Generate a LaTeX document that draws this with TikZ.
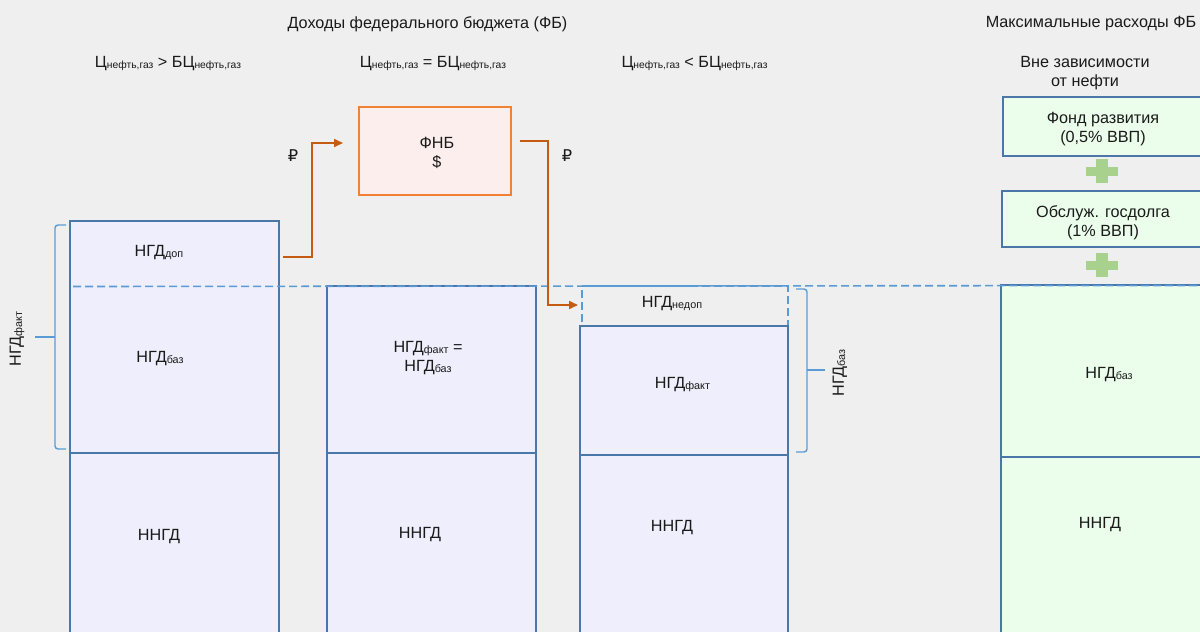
\documentclass[tikz,border=0pt]{standalone}
\usepackage{fontspec}
\setmainfont{Liberation Sans}
\newfontfamily\rubfont{DejaVu Sans}
\usetikzlibrary{arrows.meta}
\definecolor{bg}{HTML}{EFEFEF}
\definecolor{bord}{HTML}{4A77A8}
\definecolor{lav}{HTML}{EEEEFC}
\definecolor{grn}{HTML}{EBFDEB}
\definecolor{dashc}{HTML}{5B9BD5}
\definecolor{plusc}{HTML}{A9D18E}
\definecolor{fnbfill}{HTML}{FDEEEE}
\definecolor{fnbbord}{HTML}{F28233}
\definecolor{arrc}{HTML}{C55A11}
\definecolor{txt}{HTML}{1A1A1A}
\newcommand\sbs[1]{\raisebox{-1.2pt}{\fontsize{10.8}{11}\selectfont #1}}
\newcommand\csub[1]{\raisebox{-1.2pt}{\fontsize{10.3}{11}\selectfont #1}}
\begin{document}
\begin{tikzpicture}[x=1pt,y=-1pt,
  every node/.style={font=\fontsize{16.2}{19}\selectfont, text=txt, inner sep=0pt, outer sep=0pt},
  lbl/.style={anchor=base},
  bluebox/.style={draw=bord, fill=lav, line width=1.4pt},
  greenbox/.style={draw=bord, fill=grn, line width=1.4pt},
  fnbbox/.style={draw=fnbbord, fill=fnbfill, line width=1.4pt},
  dashbox/.style={draw=dashc, line width=1.4pt, dash pattern=on 8pt off 4pt},
  dashline/.style={draw=dashc, line width=1.6pt, dash pattern=on 8pt off 4pt},
  bracec/.style={draw=dashc, line width=1.4pt, rounded corners=3pt},
  flow/.style={draw=arrc, line width=1.6pt, -{Triangle[length=9pt,width=8pt]}},
  pluss/.style={fill=plusc}
]
\useasboundingbox (0,0) rectangle (1200,632);
\clip (0,0) rectangle (1200,632);
\fill[bg] (0,0) rectangle (1200,632);

% titles
\node (t1) at (427.5,24) {Доходы федерального бюджета (ФБ)};
\node (t2) at (1091,24) {Максимальные расходы ФБ};
\node[lbl] (k1) at (168,67.5) {Ц\csub{нефть,газ} > БЦ\csub{нефть,газ}};
\node[lbl] (k2) at (433,67.5) {Ц\csub{нефть,газ} = БЦ\csub{нефть,газ}};
\node[lbl] (k3) at (694.5,67.5) {Ц\csub{нефть,газ} < БЦ\csub{нефть,газ}};
\node[align=center] (k4) at (1085,73.5) {Вне зависимости\\от нефти};

% column 1
\node[bluebox, minimum width=209, minimum height=232] (c1top) at (174.5,337) {};
\node[bluebox, minimum width=209, minimum height=192] (c1bot) at (174.5,549) {};
% column 2
\node[bluebox, minimum width=209, minimum height=167] (c2top) at (431.5,369.5) {};
\node[bluebox, minimum width=209, minimum height=192] (c2bot) at (431.5,549) {};
% column 3
\node[dashbox, minimum width=206, minimum height=40] (c3dash) at (685,306) {};
\node[bluebox, minimum width=208, minimum height=129] (c3top) at (684,390.5) {};
\node[bluebox, minimum width=208, minimum height=190] (c3bot) at (684,550) {};
% column 4
\node[greenbox, minimum width=209, minimum height=172] (c4top) at (1105.5,371) {};
\node[greenbox, minimum width=209, minimum height=188] (c4bot) at (1105.5,551) {};
\node[greenbox, minimum width=207, minimum height=59] (g1) at (1106.5,126.5) {};
\node[greenbox, minimum width=208, minimum height=56] (g2) at (1106,219) {};
% FNB
\node[fnbbox, minimum width=152, minimum height=88] (fnb) at (435,151) {};
\node[align=center] (fnbt) at (437,153) {ФНБ\\\$};

% plus signs
\fill[pluss] (1086,167) rectangle (1118,176);
\fill[pluss] (1096,159) rectangle (1108,183);
\fill[pluss] (1086,261) rectangle (1118,270);
\fill[pluss] (1096,253) rectangle (1108,277);

% long dashed line
\coordinate (dl0) at (73,286.5);
\coordinate (dl1) at (1200,285.5);
\draw[dashline] (dl0) -- (dl1);

% labels
\node[lbl] (l1) at (159,256.5) {НГД\sbs{доп}};
\node[lbl] (l2) at (160,362.5) {НГД\sbs{баз}};
\node[lbl] (l3) at (159,540) {ННГД};
\node[align=center] (l4) at (428,358) {НГД\sbs{факт} =\\НГД\sbs{баз}};
\node[lbl] (l5) at (420,538) {ННГД};
\node[lbl] (l6) at (672,307.5) {НГД\sbs{недоп}};
\node[lbl] (l7) at (682.5,388.5) {НГД\sbs{факт}};
\node[lbl] (l8) at (672,531) {ННГД};
\node[lbl] (l9) at (1109,378.5) {НГД\sbs{баз}};
\node[lbl] (l10) at (1100,528) {ННГД};
\node[align=center] (g1t) at (1103,129.5) {Фонд развития\\(0,5\% ВВП)};
\node[align=center] (g2t) at (1103,223) {Обслуж. госдолга\\(1\% ВВП)};

% braces
\draw[bracec] (66,225) -- (55,225) -- (55,449) -- (66,449);
\coordinate (b1tip) at (35,337);
\draw[draw=dashc, line width=1.4pt] (b1tip) -- (55,337);
\node[rotate=90] (b1l) at (17,339) {НГД\sbs{факт}};
\draw[bracec] (796,289) -- (807,289) -- (807,452) -- (796,452);
\coordinate (b2tip) at (825,370);
\draw[draw=dashc, line width=1.4pt] (807,370) -- (b2tip);
\node[rotate=90] (b2l) at (840,373) {НГД\sbs{баз}};

% flows
\coordinate (a1s) at (283,257);
\coordinate (a1e) at (343,143);
\draw[flow] (a1s) -- (312,257) |- (a1e);
\coordinate (a2s) at (520,141);
\coordinate (a2e) at (578,305);
\draw[flow] (a2s) -- (548,141) |- (a2e);
\node (r1) at (293,156) {\rubfont ₽};
\node (r2) at (567,156) {\rubfont ₽};
\end{tikzpicture}
\end{document}
